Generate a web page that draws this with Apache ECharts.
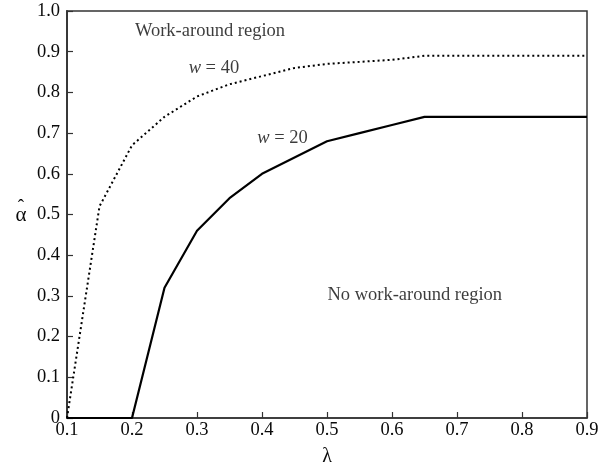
<!DOCTYPE html>
<html>
<head>
<meta charset="utf-8">
<script src="https://cdn.jsdelivr.net/npm/echarts@6/dist/echarts.min.js"></script>
<style>
  html, body { margin: 0; padding: 0; background: #fff; }
  #chart { width: 606px; height: 472px; }
</style>
</head>
<body>
<div id="chart"></div>
<script>
// Arrival rate λ (x values shared by both curves)
var lambdaValues = [0.1, 0.15, 0.2, 0.25, 0.3, 0.35, 0.4, 0.45, 0.5, 0.55, 0.6, 0.65, 0.7, 0.75, 0.8, 0.85, 0.9];
// Threshold α̂ for window w = 40 (dotted) and w = 20 (solid)
var alphaW40 = [0, 0.52, 0.67, 0.74, 0.79, 0.82, 0.84, 0.86, 0.87, 0.875, 0.88, 0.89, 0.89, 0.89, 0.89, 0.89, 0.89];
var alphaW20 = [0, 0, 0, 0.32, 0.46, 0.54, 0.60, 0.64, 0.68, 0.70, 0.72, 0.74, 0.74, 0.74, 0.74, 0.74, 0.74];
// Axis tick values
var xTicks = [0.1, 0.2, 0.3, 0.4, 0.5, 0.6, 0.7, 0.8, 0.9];
var yTicks = [0, 0.1, 0.2, 0.3, 0.4, 0.5, 0.6, 0.7, 0.8, 0.9, 1.0];

// Region and curve labels, anchored in data space
var annotations = [
  { text: 'Work-around region', at: [0.32, 0.951] },
  { text: '{i|w} = 40', at: [0.326, 0.859] },
  { text: '{i|w} = 20', at: [0.4315, 0.688] },
  { text: 'No work-around region', at: [0.635, 0.303] }
];

function pairs(xs, ys) {
  return xs.map(function (x, i) { return [x, ys[i]]; });
}

var FONT = '"Liberation Serif", "DejaVu Serif", serif';
var FS = 18.5;
var AXIS_COLOR = '#333';
var TEXT_COLOR = '#0a0a0a';

var chart = echarts.init(document.getElementById('chart'), null, { renderer: 'canvas' });

var option = {
  backgroundColor: '#fff',
  animation: false,
  grid: {
    left: 67, right: 19, top: 11, bottom: 51,
    show: true, borderColor: AXIS_COLOR, borderWidth: 1.5, backgroundColor: 'transparent'
  },
  xAxis: {
    type: 'value',
    min: xTicks[0], max: xTicks[xTicks.length - 1], interval: 0.1,
    name: 'λ', nameLocation: 'middle', nameGap: 29,
    nameTextStyle: { fontFamily: FONT, fontSize: 20, color: TEXT_COLOR },
    axisLine: { show: true, lineStyle: { color: AXIS_COLOR, width: 1.5 } },
    axisTick: { show: true, inside: true, length: 6, lineStyle: { color: AXIS_COLOR, width: 1.2 } },
    axisLabel: {
      margin: 3, fontFamily: FONT, fontSize: FS, color: TEXT_COLOR,
      formatter: function (v) { return v.toFixed(1); }
    },
    splitLine: { show: false }
  },
  yAxis: {
    type: 'value',
    min: yTicks[0], max: yTicks[yTicks.length - 1], interval: 0.1,
    name: '{h|ˆ}\n{a|α}', nameLocation: 'middle', nameGap: 46, nameRotate: 0,
    nameTextStyle: {
      fontFamily: FONT, fontSize: 21, color: TEXT_COLOR, align: 'center',
      rich: {
        h: { fontFamily: FONT, fontSize: 19, lineHeight: 2, color: TEXT_COLOR, align: 'center' },
        a: { fontFamily: FONT, fontSize: 21, lineHeight: 14, color: TEXT_COLOR, align: 'center' }
      }
    },
    axisLine: { show: true, lineStyle: { color: AXIS_COLOR, width: 1.8 } },
    axisTick: { show: true, inside: true, length: 6, lineStyle: { color: AXIS_COLOR, width: 1.2 } },
    axisLabel: {
      margin: 7, fontFamily: FONT, fontSize: FS, color: TEXT_COLOR,
      formatter: function (v) { return v === 0 ? '0' : v.toFixed(1); }
    },
    splitLine: { show: false }
  },
  series: [
    {
      name: 'w = 40', type: 'line', data: pairs(lambdaValues, alphaW40),
      showSymbol: false, symbol: 'none', z: 3,
      lineStyle: { color: '#000', width: 2, type: [2, 3], cap: 'butt' }
    },
    {
      name: 'w = 20', type: 'line', data: pairs(lambdaValues, alphaW20),
      showSymbol: false, symbol: 'none', z: 4,
      lineStyle: { color: '#000', width: 2.2, type: 'solid' }
    },
    {
      name: 'labels', type: 'scatter', z: 5, silent: true,
      symbolSize: 1, itemStyle: { color: 'rgba(0,0,0,0)' },
      data: annotations.map(function (a) {
        return { value: a.at, label: { formatter: a.text } };
      }),
      label: {
        show: true, position: 'inside', color: TEXT_COLOR,
        fontFamily: FONT, fontSize: FS,
        rich: { i: { fontFamily: FONT, fontStyle: 'italic', fontSize: FS, color: TEXT_COLOR } }
      }
    }
  ]
};

chart.setOption(option);
</script>
</body>
</html>
